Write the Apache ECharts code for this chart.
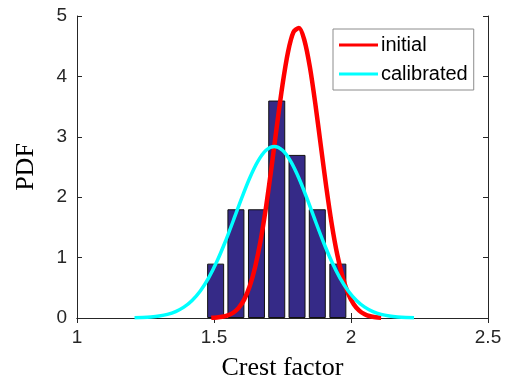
<!DOCTYPE html>
<html><head><meta charset="utf-8">
<script src="https://cdn.jsdelivr.net/npm/echarts@6/dist/echarts.min.js"></script>
<style>html,body{margin:0;padding:0;background:#fff}#c{width:510px;height:391px}</style>
</head><body><div id="c"></div>
<script>
// Histogram bins (centers) and PDF heights
const binCenters = [1.506, 1.580, 1.655, 1.729, 1.803, 1.877, 1.952];
const binHeights = [0.9, 1.8, 1.8, 3.6, 2.7, 1.8, 0.9];

// "initial" curve samples
const initialX = [1.49,1.51,1.53,1.55,1.57,1.59,1.61,1.63,1.65,1.67,1.69,1.71,1.73,1.75,1.77,1.79,1.81,1.83,1.85,1.87,1.89,1.91,1.93,1.95,1.97,1.99,2.01,2.03,2.05,2.07,2.09,2.11];
const initialY = [0.004,0.009,0.020,0.043,0.087,0.168,0.304,0.521,0.841,1.281,1.842,2.498,3.197,3.861,4.401,4.732,4.801,4.597,4.152,3.540,2.847,2.161,1.547,1.046,0.667,0.401,0.228,0.122,0.062,0.029,0.013,0.006];

// "calibrated" curve samples
const calibX = [1.21,1.24,1.27,1.30,1.33,1.36,1.39,1.42,1.45,1.48,1.51,1.54,1.57,1.60,1.63,1.66,1.69,1.72,1.75,1.78,1.81,1.84,1.87,1.90,1.93,1.96,1.99,2.02,2.05,2.08,2.11,2.14,2.17,2.20,2.23];
const calibY = [0.004,0.008,0.017,0.033,0.060,0.107,0.180,0.291,0.448,0.660,0.930,1.250,1.606,1.972,2.313,2.592,2.776,2.840,2.776,2.592,2.313,1.972,1.606,1.250,0.930,0.660,0.448,0.291,0.180,0.107,0.060,0.033,0.017,0.008,0.004];

const xTicks = [1, 1.5, 2, 2.5];
const yTicks = [0, 1, 2, 3, 4, 5];

const zip = (a, b) => a.map((v, i) => [v, b[i]]);
const axisCol = '#262626';
const tickFont = 'Liberation Sans, Arial, sans-serif';
const serif = 'Liberation Serif, Times New Roman, serif';

const chart = echarts.init(document.getElementById('c'), null, {renderer: 'canvas'});
chart.setOption({
  animation: false,
  backgroundColor: '#fff',
  grid: {left: 77, right: 22, top: 16, bottom: 73, containLabel: false},
  legend: {
    orient: 'vertical', left: 333, top: 29,
    padding: [6, 6, 6, 6], itemGap: 9,
    itemWidth: 39, itemHeight: 3,
    borderColor: '#8c8c8c', borderWidth: 1, backgroundColor: '#fff',
    textStyle: {fontFamily: tickFont, fontSize: 20, color: '#000', padding: [0, 0, 0, -2]},
    data: [{name: 'initial', icon: 'rect'}, {name: 'calibrated', icon: 'rect'}]
  },
  xAxis: [{
    type: 'value', min: xTicks[0], max: xTicks[xTicks.length - 1], interval: 0.5,
    position: 'bottom',
    name: 'Crest factor', nameLocation: 'middle', nameGap: 37,
    nameTextStyle: {fontFamily: serif, fontSize: 26, color: '#000'},
    axisLine: {show: true, lineStyle: {color: axisCol, width: 1}},
    axisTick: {show: true, inside: true, length: 5, lineStyle: {color: axisCol}},
    axisLabel: {fontFamily: tickFont, fontSize: 19, color: '#262626', margin: 10,
      formatter: v => String(v)},
    splitLine: {show: false}
  }, {
    type: 'value', min: xTicks[0], max: xTicks[xTicks.length - 1], interval: 0.5,
    position: 'top',
    axisLine: {show: true, lineStyle: {color: axisCol, width: 1}},
    axisTick: {show: true, inside: true, length: 5, lineStyle: {color: axisCol}},
    axisLabel: {show: false}, splitLine: {show: false}
  }],
  yAxis: [{
    type: 'value', min: yTicks[0], max: yTicks[yTicks.length - 1], interval: 1,
    position: 'left',
    name: 'PDF', nameLocation: 'middle', nameGap: 38, nameRotate: 90,
    nameTextStyle: {fontFamily: serif, fontSize: 26, color: '#000'},
    axisLine: {show: true, lineStyle: {color: axisCol, width: 1}},
    axisTick: {show: true, inside: true, length: 5, lineStyle: {color: axisCol}},
    axisLabel: {fontFamily: tickFont, fontSize: 19, color: '#262626', margin: 10},
    splitLine: {show: false}
  }, {
    type: 'value', min: yTicks[0], max: yTicks[yTicks.length - 1], interval: 1,
    position: 'right',
    axisLine: {show: true, lineStyle: {color: axisCol, width: 1}},
    axisTick: {show: true, inside: true, length: 5, lineStyle: {color: axisCol}},
    axisLabel: {show: false}, splitLine: {show: false}
  }],
  series: [{
    type: 'bar', name: 'hist', xAxisIndex: 0, yAxisIndex: 0,
    barWidth: 17,
    data: zip(binCenters, binHeights),
    itemStyle: {color: '#352A87', borderColor: '#111', borderWidth: 1}
  }, {
    type: 'line', name: 'initial', xAxisIndex: 0, yAxisIndex: 0,
    data: zip(initialX, initialY), smooth: 0.3, showSymbol: false, symbol: 'none',
    lineStyle: {color: '#ff0000', width: 4.5}, itemStyle: {color: '#ff0000'}
  }, {
    type: 'line', name: 'calibrated', xAxisIndex: 0, yAxisIndex: 0,
    data: zip(calibX, calibY), smooth: 0.3, showSymbol: false, symbol: 'none',
    lineStyle: {color: '#00ffff', width: 3.5}, itemStyle: {color: '#00ffff'}
  }]
});
</script></body></html>
